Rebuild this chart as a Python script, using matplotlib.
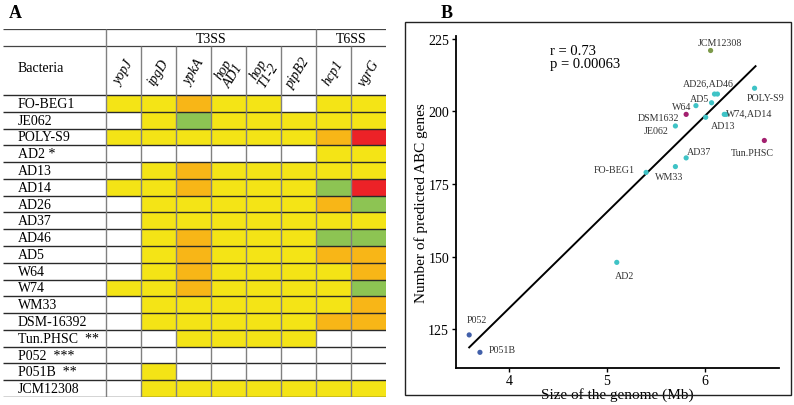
import numpy as np
import matplotlib
matplotlib.use("Agg")
import matplotlib.pyplot as plt
from matplotlib.colors import ListedColormap
from matplotlib.patches import Rectangle

plt.rcParams['font.family'] = ['Liberation Serif', 'DejaVu Serif']

# ---- panel A data: effector presence / copy level per strain
bacteria = ['FO-BEG1', 'JE062', 'POLY-S9', 'AD2 *', 'AD13', 'AD14', 'AD26',
            'AD37', 'AD46', 'AD5', 'W64', 'W74', 'WM33', 'DSM-16392',
            'Tun.PHSC  **', 'P052  ***', 'P051B  **', 'JCM12308']
genes = ['yopJ', 'ipgD', 'ypkA', 'hop\nAD1', 'hop\nT1-2', 'pipB2', 'hcp1', 'vgrG']
systems = [('T3SS', 0, 6), ('T6SS', 6, 8)]
# W = absent, Y / O / G / R = level classes
presence = [
    'YYOYYWYY',
    'WYGYYYYY',
    'YYYYYYOR',
    'WWWWWWYY',
    'WYOYYYYY',
    'YYOYYYGR',
    'WYYYYYOG',
    'WYYYYYYY',
    'WYOYYYGG',
    'WYOYYYOO',
    'WYOYYYYO',
    'YYOYYYYG',
    'WYYYYYYO',
    'WYYYYYOO',
    'WWYYYYWW',
    'WWWWWWWW',
    'WYWWWWWW',
    'WYYYYYYY',
]
level_codes = 'WYOGR'
level_colors = ['#ffffff', '#f4e416', '#f8b617', '#8dc453', '#ec2227']

# ---- panel B data: genome size vs predicted ABC genes
strain = ['JCM12308', 'AD26', 'AD46', 'POLY-S9', 'AD5', 'W64', 'DSM1632', 'AD13',
          'W74', 'AD14', 'JE062', 'Tun.PHSC', 'AD37', 'WM33', 'FO-BEG1', 'AD2',
          'P052', 'P051B']
genome_mb = [6.06, 6.10, 6.13, 6.51, 6.07, 5.91, 5.81, 6.01,
             6.20, 6.22, 5.70, 6.61, 5.81, 5.70, 5.40, 5.10, 3.59, 3.70]
abc_genes = [221, 206, 206, 208, 203, 202, 199, 198,
             199, 199, 195, 190, 184, 181, 179, 148, 123, 117]
group = ['g', 'c', 'c', 'c', 'c', 'c', 'm', 'c',
         'c', 'c', 'c', 'm', 'c', 'c', 'c', 'c', 'b', 'b']
group_colors = {'c': '#3fc3c6', 'm': '#a3206f', 'b': '#4260aa', 'g': '#7c9a4a'}
fit_slope, fit_intercept = 33.07, -0.02
fit_range = [3.59, 6.52]
r_value, p_value = 0.73, 0.00063

# label text, members, offset in pixels
point_labels = [
    ('JCM12308', ['JCM12308'], (9, 8)),
    ('AD26,AD46', ['AD26', 'AD46'], (-8, 11)),
    ('POLY-S9', ['POLY-S9'], (11, -9)),
    ('AD5', ['AD5'], (-12, 4)),
    ('W64', ['W64'], (-14, -1)),
    ('DSM1632', ['DSM1632'], (-28, -3)),
    ('AD13', ['AD13'], (17, -8)),
    ('W74,AD14', ['W74', 'AD14'], (24, 2)),
    ('JE062', ['JE062'], (-19, -5)),
    ('Tun.PHSC', ['Tun.PHSC'], (-12, -12)),
    ('AD37', ['AD37'], (13, 6)),
    ('WM33', ['WM33'], (-6, -10)),
    ('FO-BEG1', ['FO-BEG1'], (-32, 3)),
    ('AD2', ['AD2'], (8, -13)),
    ('P052', ['P052'], (8, 15)),
    ('P051B', ['P051B'], (22, 3)),
]

W, H = 794, 406
fig = plt.figure(figsize=(W / 100, H / 100), dpi=100)

# ================= panel A (table)
tab_left, tab_right, tab_top, tab_bot = 3, 386, 30, 398
ax = fig.add_axes([tab_left / W, 1 - tab_bot / H, (tab_right - tab_left) / W,
                   (tab_bot - tab_top) / H])
ncol = len(genes)
nrow = len(bacteria)
cw = (tab_right - 106) / ncol          # px per column
rh = (tab_bot - 96) / nrow             # px per row
x_min = -(106 - tab_left) / cw
y_gene = -(96 - 47) / rh
y_top = -(96 - tab_top) / rh

codes = np.array([[level_codes.index(ch) for ch in row] for row in presence])
ax.imshow(codes, cmap=ListedColormap(level_colors), vmin=-0.5, vmax=4.5,
          extent=(0, ncol, nrow, 0), aspect='auto', interpolation='nearest')
ax.set_xlim(x_min, ncol)
ax.set_ylim(nrow, y_top)
ax.axis('off')

ax.hlines(np.arange(nrow + 1), x_min, ncol, color='#2a2a2a', lw=1.0)
ax.hlines([y_top, y_gene], x_min, ncol, color='#444444', lw=0.9)
for k in range(ncol):
    starts_top = k == 0 or any(k == s[1] for s in systems)
    ax.vlines(k, y_top if starts_top else y_gene, nrow, color='#808080', lw=1.0)

for name, a, b in systems:
    ax.text((a + b) / 2, (y_top + y_gene) / 2 + 0.05, name, ha='center',
            va='center', fontsize=10)
ax.text(x_min + 15 / cw, (y_gene + 0) / 2 - 0.2, 'Bacteria', ha='left',
        va='center', fontsize=10)
for j, g in enumerate(genes):
    ax.text(j + 0.5, y_gene / 2 + 0.1, g, rotation=58, ha='center', va='center',
            fontsize=10, style='italic', linespacing=0.85, rotation_mode='anchor')
for i, b in enumerate(bacteria):
    ax.text(x_min + 15 / cw, i + 0.5, b, ha='left', va='center', fontsize=10)

fig.text(9 / W, 1 - 13 / H, 'A', fontsize=13, fontweight='bold', va='center')

# ================= panel B (scatter)
fig.add_artist(Rectangle((405 / W, 1 - 396 / H), (791 - 405) / W, (396 - 23) / H,
                         transform=fig.transFigure, fill=False, lw=1.0,
                         edgecolor='#222222'))
fig.text(447 / W, 1 - 13 / H, 'B', fontsize=13, fontweight='bold',
         ha='center', va='center')

bx = fig.add_axes([456 / W, 1 - 369 / H, (779 - 456) / W, (369 - 37) / H])
bx.set_xlim(3.455, 6.76)
bx.set_ylim(111.6, 226)
for s in ['top', 'right']:
    bx.spines[s].set_visible(False)
for s in ['left', 'bottom']:
    bx.spines[s].set_linewidth(1.3)
bx.set_xticks([4, 5, 6])
bx.set_yticks([125, 150, 175, 200, 225])
bx.tick_params(labelsize=10, length=3, width=1, pad=2)
bx.tick_params(axis='x', pad=1)

xs = np.array(fit_range)
bx.plot(xs, fit_slope * xs + fit_intercept, color='black', lw=1.4)

bx.scatter(genome_mb, abc_genes, s=14, c=[group_colors[g] for g in group],
           zorder=3, linewidths=0)

pos = {n: (x, y) for n, x, y in zip(strain, genome_mb, abc_genes)}
for text, members, off in point_labels:
    px = np.mean([pos[m][0] for m in members])
    py = np.mean([pos[m][1] for m in members])
    bx.annotate(text, (px, py), xytext=off, textcoords='offset pixels',
                ha='center', va='center', fontsize=7.2, color='#333333')

bx.text(0.29, 0.975, f'r = {r_value}\np = {p_value:.5f}', transform=bx.transAxes,
        fontsize=10.5, va='top', ha='left', linespacing=0.95)
bx.set_xlabel('Size of the genome (Mb)', fontsize=11, labelpad=0)
bx.set_ylabel('Number of predicted ABC genes', fontsize=11, labelpad=0)

fig.savefig('out.png', dpi=100)
